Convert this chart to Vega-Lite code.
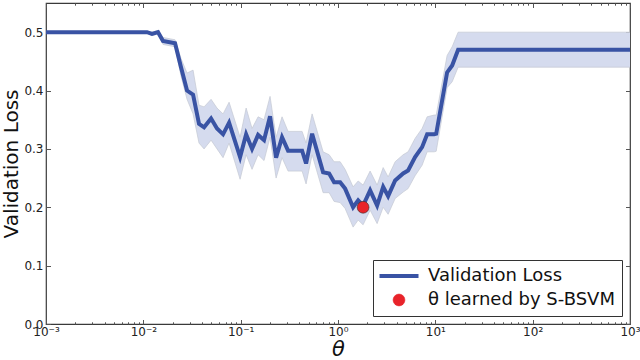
{
  "$schema": "https://vega.github.io/schema/vega-lite/v6.json",
  "width": 584,
  "height": 321,
  "autosize": {"type": "none"},
  "padding": {"left": 46, "top": 3, "right": 10, "bottom": 36},
  "config": {
    "font": "DejaVu Sans",
    "view": {"stroke": "#3a3a3a", "strokeWidth": 1.2},
    "axis": {"grid": false, "domain": false, "tickColor": "#555555", "labelColor": "#222222", "titleColor": "#111111", "labelFont": "DejaVu Sans", "titleFont": "DejaVu Sans"}
  },
  "datasets": {
    "loss": [
      {"t": 0.001, "v": 0.5, "lo": 0.5, "hi": 0.5},
      {"t": 0.01091, "v": 0.5, "lo": 0.499, "hi": 0.501},
      {"t": 0.01227, "v": 0.497, "lo": 0.494, "hi": 0.5},
      {"t": 0.01416, "v": 0.5, "lo": 0.497, "hi": 0.503},
      {"t": 0.01592, "v": 0.485, "lo": 0.479, "hi": 0.491},
      {"t": 0.02118, "v": 0.481, "lo": 0.475, "hi": 0.487},
      {"t": 0.02438, "v": 0.44, "lo": 0.425, "hi": 0.455},
      {"t": 0.02812, "v": 0.4, "lo": 0.385, "hi": 0.43},
      {"t": 0.03243, "v": 0.393, "lo": 0.36, "hi": 0.435},
      {"t": 0.03733, "v": 0.343, "lo": 0.31, "hi": 0.375},
      {"t": 0.04207, "v": 0.337, "lo": 0.3, "hi": 0.372},
      {"t": 0.04966, "v": 0.352, "lo": 0.315, "hi": 0.385},
      {"t": 0.05715, "v": 0.335, "lo": 0.3, "hi": 0.37},
      {"t": 0.06592, "v": 0.325, "lo": 0.285, "hi": 0.36},
      {"t": 0.07603, "v": 0.345, "lo": 0.31, "hi": 0.38},
      {"t": 0.09863, "v": 0.286, "lo": 0.248, "hi": 0.32},
      {"t": 0.1138, "v": 0.325, "lo": 0.29, "hi": 0.37},
      {"t": 0.1309, "v": 0.3, "lo": 0.265, "hi": 0.335},
      {"t": 0.151, "v": 0.324, "lo": 0.29, "hi": 0.355},
      {"t": 0.1738, "v": 0.315, "lo": 0.28, "hi": 0.35},
      {"t": 0.2004, "v": 0.356, "lo": 0.32, "hi": 0.39},
      {"t": 0.2312, "v": 0.285, "lo": 0.25, "hi": 0.32},
      {"t": 0.2661, "v": 0.32, "lo": 0.285, "hi": 0.355},
      {"t": 0.3069, "v": 0.297, "lo": 0.262, "hi": 0.33},
      {"t": 0.4276, "v": 0.297, "lo": 0.262, "hi": 0.33},
      {"t": 0.4699, "v": 0.275, "lo": 0.24, "hi": 0.31},
      {"t": 0.542, "v": 0.326, "lo": 0.29, "hi": 0.36},
      {"t": 0.7031, "v": 0.26, "lo": 0.225, "hi": 0.295},
      {"t": 0.811, "v": 0.258, "lo": 0.225, "hi": 0.29},
      {"t": 0.912, "v": 0.243, "lo": 0.21, "hi": 0.278},
      {"t": 1.052, "v": 0.243, "lo": 0.208, "hi": 0.278},
      {"t": 1.183, "v": 0.232, "lo": 0.198, "hi": 0.265},
      {"t": 1.429, "v": 0.2, "lo": 0.166, "hi": 0.235},
      {"t": 1.611, "v": 0.212, "lo": 0.178, "hi": 0.245},
      {"t": 1.811, "v": 0.203, "lo": 0.17, "hi": 0.238},
      {"t": 2.138, "v": 0.229, "lo": 0.195, "hi": 0.262},
      {"t": 2.523, "v": 0.203, "lo": 0.172, "hi": 0.238},
      {"t": 2.911, "v": 0.235, "lo": 0.2, "hi": 0.268},
      {"t": 3.273, "v": 0.219, "lo": 0.188, "hi": 0.252},
      {"t": 3.864, "v": 0.246, "lo": 0.215, "hi": 0.278},
      {"t": 4.667, "v": 0.258, "lo": 0.226, "hi": 0.29},
      {"t": 5.248, "v": 0.263, "lo": 0.232, "hi": 0.295},
      {"t": 6.194, "v": 0.286, "lo": 0.254, "hi": 0.318},
      {"t": 7.311, "v": 0.303, "lo": 0.272, "hi": 0.335},
      {"t": 8.241, "v": 0.325, "lo": 0.295, "hi": 0.355},
      {"t": 9.727, "v": 0.325, "lo": 0.295, "hi": 0.358},
      {"t": 10.21, "v": 0.326, "lo": 0.296, "hi": 0.358},
      {"t": 13.21, "v": 0.431, "lo": 0.405, "hi": 0.46},
      {"t": 14.89, "v": 0.443, "lo": 0.415, "hi": 0.475},
      {"t": 17.14, "v": 0.47, "lo": 0.44, "hi": 0.5},
      {"t": 1000, "v": 0.47, "lo": 0.44, "hi": 0.5}
    ],
    "best": [
      {"t": 1.811, "v": 0.2}
    ]
  },
  "data": {"name": "loss"},
  "resolve": {
    "scale": {"x": "independent", "y": "independent"},
    "axis": {"x": "independent", "y": "independent"}
  },
  "layer": [
    {
      "mark": {"type": "area", "color": "#d5dbee", "opacity": 1},
      "encoding": {
        "x": {
          "field": "t", "type": "quantitative",
          "scale": {"type": "log", "domain": [0.001, 1000], "nice": false},
          "title": "θ",
          "axis": {
            "orient": "bottom",
            "values": [0.001, 0.01, 0.1, 1, 10, 100, 1000],
            "labelExpr": "datum.value == 0.001 ? '10⁻³' : datum.value == 0.01 ? '10⁻²' : datum.value == 0.1 ? '10⁻¹' : datum.value == 1 ? '10⁰' : datum.value == 10 ? '10¹' : datum.value == 100 ? '10²' : datum.value == 1000 ? '10³' : ''",
            "tickSize": -4.5,
            "labelPadding": 7,
            "labelFontSize": 12,
            "labelFlush": false,
            "labelOverlap": false,
            "titleFontSize": 21,
            "titleFontStyle": "italic",
            "titleFontWeight": "normal",
            "titlePadding": 1
          }
        },
        "y": {
          "field": "lo", "type": "quantitative",
          "scale": {"domain": [0, 0.55], "nice": false, "zero": false},
          "title": "Validation Loss",
          "axis": {
            "orient": "left",
            "values": [0, 0.1, 0.2, 0.3, 0.4, 0.5],
            "format": ".1f",
            "tickSize": -4.5,
            "labelPadding": 7.5,
            "labelFontSize": 12,
            "titleFontSize": 20,
            "titleFontWeight": "normal",
            "titlePadding": 2
          }
        },
        "y2": {"field": "hi"}
      }
    },
    {
      "mark": {"type": "line", "color": "#c4c8d2", "strokeWidth": 0.7},
      "encoding": {
        "x": {
          "field": "t", "type": "quantitative",
          "scale": {"type": "log", "domain": [0.001, 1000], "nice": false},
          "axis": {
            "orient": "bottom",
            "values": [0.002, 0.003, 0.004, 0.005, 0.006, 0.007, 0.008, 0.009, 0.02, 0.03, 0.04, 0.05, 0.06, 0.07, 0.08, 0.09, 0.2, 0.3, 0.4, 0.5, 0.6, 0.7, 0.8, 0.9, 2, 3, 4, 5, 6, 7, 8, 9, 20, 30, 40, 50, 60, 70, 80, 90, 200, 300, 400, 500, 600, 700, 800, 900],
            "labels": false,
            "tickSize": -2.2,
            "title": null
          }
        },
        "y": {
          "field": "hi", "type": "quantitative",
          "scale": {"domain": [0, 0.55], "nice": false, "zero": false},
          "axis": {
            "orient": "right",
            "values": [0, 0.1, 0.2, 0.3, 0.4, 0.5],
            "labels": false,
            "tickSize": -4.5,
            "title": null
          }
        }
      }
    },
    {
      "mark": {"type": "line", "color": "#c4c8d2", "strokeWidth": 0.7},
      "encoding": {
        "x": {
          "field": "t", "type": "quantitative",
          "scale": {"type": "log", "domain": [0.001, 1000], "nice": false},
          "axis": {
            "orient": "top",
            "values": [0.001, 0.01, 0.1, 1, 10, 100, 1000],
            "labels": false,
            "tickSize": -4.5,
            "title": null
          }
        },
        "y": {
          "field": "lo", "type": "quantitative",
          "scale": {"domain": [0, 0.55], "nice": false, "zero": false},
          "axis": null
        }
      }
    },
    {
      "mark": {"type": "line", "strokeWidth": 4},
      "encoding": {
        "x": {
          "field": "t", "type": "quantitative",
          "scale": {"type": "log", "domain": [0.001, 1000], "nice": false},
          "axis": {
            "orient": "top",
            "values": [0.002, 0.003, 0.004, 0.005, 0.006, 0.007, 0.008, 0.009, 0.02, 0.03, 0.04, 0.05, 0.06, 0.07, 0.08, 0.09, 0.2, 0.3, 0.4, 0.5, 0.6, 0.7, 0.8, 0.9, 2, 3, 4, 5, 6, 7, 8, 9, 20, 30, 40, 50, 60, 70, 80, 90, 200, 300, 400, 500, 600, 700, 800, 900],
            "labels": false,
            "tickSize": -2.2,
            "title": null
          }
        },
        "y": {
          "field": "v", "type": "quantitative",
          "scale": {"domain": [0, 0.55], "nice": false, "zero": false},
          "axis": null
        },
        "color": {
          "datum": "Validation Loss",
          "scale": {"domain": ["Validation Loss", "θ learned by S-BSVM"], "range": ["#3953a4", "#e8232a"]},
          "legend": {
            "title": null,
            "orient": "bottom-right",
            "offset": 8,
            "padding": 7,
            "strokeColor": "#333333",
            "fillColor": "#ffffff",
            "cornerRadius": 0,
            "labelFont": "DejaVu Sans",
            "labelFontSize": 18,
            "labelColor": "#111111",
            "labelOffset": 20,
            "symbolOffset": 10,
            "labelLimit": 400,
            "symbolSize": 1521,
            "rowPadding": 6,
            "encode": {
              "symbols": {
                "update": {
                  "shape": {"signal": "datum.value === 'Validation Loss' ? 'stroke' : 'circle'"},
                  "size": {"signal": "datum.value === 'Validation Loss' ? 1521 : 140"},
                  "fill": {"signal": "datum.value === 'Validation Loss' ? 'transparent' : '#e8232a'"},
                  "stroke": {"signal": "datum.value === 'Validation Loss' ? '#3953a4' : '#333333'"},
                  "strokeWidth": {"signal": "datum.value === 'Validation Loss' ? 4 : 0.6"},
                  "opacity": {"value": 1}
                }
              }
            }
          }
        }
      }
    },
    {
      "data": {"name": "best"},
      "mark": {"type": "circle", "size": 140, "opacity": 1, "stroke": "#333333", "strokeWidth": 0.6},
      "encoding": {
        "x": {
          "field": "t", "type": "quantitative",
          "scale": {"type": "log", "domain": [0.001, 1000], "nice": false},
          "axis": null
        },
        "y": {
          "field": "v", "type": "quantitative",
          "scale": {"domain": [0, 0.55], "nice": false, "zero": false},
          "axis": null
        },
        "color": {"datum": "θ learned by S-BSVM"}
      }
    }
  ]
}
